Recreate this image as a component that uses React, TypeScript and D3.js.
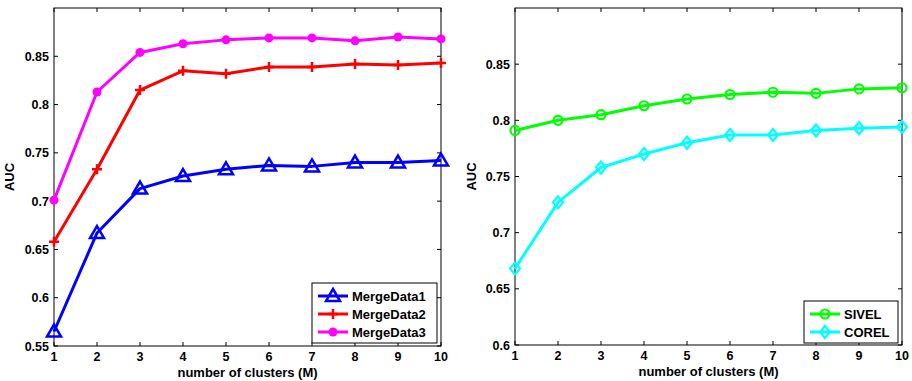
import { useEffect, useRef } from 'react';
import * as d3 from 'd3';

const clusters = [1, 2, 3, 4, 5, 6, 7, 8, 9, 10];

const mergeData1 = [0.565, 0.667, 0.713, 0.726, 0.733, 0.737, 0.736, 0.740, 0.740, 0.742];
const mergeData2 = [0.658, 0.733, 0.815, 0.835, 0.832, 0.839, 0.839, 0.842, 0.841, 0.843];
const mergeData3 = [0.701, 0.813, 0.854, 0.863, 0.867, 0.869, 0.869, 0.866, 0.870, 0.868];

const sivel = [0.791, 0.800, 0.805, 0.813, 0.819, 0.823, 0.825, 0.824, 0.828, 0.829];
const corel = [0.668, 0.727, 0.758, 0.770, 0.780, 0.787, 0.787, 0.791, 0.793, 0.794];

const leftTicks = [0.55, 0.6, 0.65, 0.7, 0.75, 0.8, 0.85];
const rightTicks = [0.6, 0.65, 0.7, 0.75, 0.8, 0.85];

type Series = { name: string; values: number[]; color: string; marker: string };

const leftSeries: Series[] = [
  { name: 'MergeData1', values: mergeData1, color: '#0000ff', marker: 'triangle' },
  { name: 'MergeData2', values: mergeData2, color: '#ff0000', marker: 'plus' },
  { name: 'MergeData3', values: mergeData3, color: '#ff00ff', marker: 'dot' },
];

const rightSeries: Series[] = [
  { name: 'SIVEL', values: sivel, color: '#00ff00', marker: 'circle' },
  { name: 'COREL', values: corel, color: '#00ffff', marker: 'diamond' },
];

const FONT = '"Liberation Sans", Arial, sans-serif';

function drawMarker(g: d3.Selection<SVGGElement, unknown, null, undefined>, kind: string, x: number, y: number, color: string) {
  if (kind === 'triangle') {
    g.append('path')
      .attr('d', `M${x},${y - 7} L${x + 7},${y + 5} L${x - 7},${y + 5} Z`)
      .attr('fill', 'none').attr('stroke', color).attr('stroke-width', 2.5);
  } else if (kind === 'plus') {
    g.append('path')
      .attr('d', `M${x - 5},${y} L${x + 5},${y} M${x},${y - 5} L${x},${y + 5}`)
      .attr('stroke', color).attr('stroke-width', 2.5);
  } else if (kind === 'dot') {
    g.append('circle').attr('cx', x).attr('cy', y).attr('r', 4.5).attr('fill', color);
  } else if (kind === 'circle') {
    g.append('circle').attr('cx', x).attr('cy', y).attr('r', 4.5)
      .attr('fill', 'none').attr('stroke', color).attr('stroke-width', 2.2);
  } else if (kind === 'diamond') {
    g.append('path')
      .attr('d', `M${x},${y - 6} L${x + 5},${y} L${x},${y + 6} L${x - 5},${y} Z`)
      .attr('fill', 'none').attr('stroke', color).attr('stroke-width', 2.2);
  }
}

function drawPanel(
  svg: d3.Selection<SVGSVGElement, unknown, null, undefined>,
  box: { left: number; right: number; top: number; bottom: number },
  yDomain: [number, number],
  yTicks: number[],
  series: Series[],
  legend: { x: number; y: number; w: number; rowH: number },
  labelX: number
) {
  const x = d3.scaleLinear().domain([1, 10]).range([box.left, box.right]);
  const y = d3.scaleLinear().domain(yDomain).range([box.bottom, box.top]);
  const g = svg.append('g');

  // box
  g.append('rect')
    .attr('x', box.left).attr('y', box.top)
    .attr('width', box.right - box.left).attr('height', box.bottom - box.top)
    .attr('fill', 'white').attr('stroke', '#000').attr('stroke-width', 1);

  // ticks inside, all four sides
  const tl = 4;
  clusters.forEach(c => {
    const px = x(c);
    g.append('line').attr('x1', px).attr('x2', px).attr('y1', box.bottom).attr('y2', box.bottom - tl).attr('stroke', '#000');
    g.append('line').attr('x1', px).attr('x2', px).attr('y1', box.top).attr('y2', box.top + tl).attr('stroke', '#000');
    g.append('text').attr('x', px).attr('y', box.bottom + 15)
      .attr('text-anchor', 'middle').attr('font-size', 12.5).attr('font-weight', 'bold')
      .attr('font-family', FONT).text(c);
  });
  yTicks.forEach(t => {
    const py = y(t);
    g.append('line').attr('x1', box.left).attr('x2', box.left + tl).attr('y1', py).attr('y2', py).attr('stroke', '#000');
    g.append('line').attr('x1', box.right).attr('x2', box.right - tl).attr('y1', py).attr('y2', py).attr('stroke', '#000');
    g.append('text').attr('x', box.left - 5).attr('y', py + 4.5)
      .attr('text-anchor', 'end').attr('font-size', 12.5).attr('font-weight', 'bold')
      .attr('font-family', FONT).text(d3.format('')(t));
  });

  // axis labels
  g.append('text')
    .attr('x', (box.left + box.right) / 2).attr('y', box.bottom + 31)
    .attr('text-anchor', 'middle').attr('font-size', 13).attr('font-weight', 'bold')
    .attr('font-family', FONT).text('number of clusters (M)');
  g.append('text')
    .attr('transform', `translate(${labelX},${(box.top + box.bottom) / 2}) rotate(-90)`)
    .attr('text-anchor', 'middle').attr('font-size', 13).attr('font-weight', 'bold')
    .attr('font-family', FONT).text('AUC');

  const line = d3.line<number>().x((_, i) => x(clusters[i])).y(d => y(d));
  series.forEach(s => {
    g.append('path').attr('d', line(s.values)).attr('fill', 'none')
      .attr('stroke', s.color).attr('stroke-width', 3).attr('stroke-linejoin', 'round');
    s.values.forEach((v, i) => drawMarker(g, s.marker, x(clusters[i]), y(v), s.color));
  });

  // legend
  const lh = legend.rowH * series.length + 6;
  g.append('rect').attr('x', legend.x).attr('y', legend.y).attr('width', legend.w).attr('height', lh)
    .attr('fill', 'white').attr('stroke', '#000').attr('stroke-width', 1);
  series.forEach((s, i) => {
    const cy = legend.y + 3 + legend.rowH * (i + 0.5) + 1;
    g.append('line').attr('x1', legend.x + 6).attr('x2', legend.x + 36).attr('y1', cy).attr('y2', cy)
      .attr('stroke', s.color).attr('stroke-width', 3);
    drawMarker(g, s.marker, legend.x + 21, cy, s.color);
    g.append('text').attr('x', legend.x + 40).attr('y', cy + 5)
      .attr('font-size', 13).attr('font-weight', 'bold').attr('font-family', FONT).text(s.name);
  });
}

export default function App() {
  const ref = useRef<SVGSVGElement>(null);

  useEffect(() => {
    if (!ref.current) return;
    const svg = d3.select(ref.current);
    svg.selectAll('*').remove();

    drawPanel(svg, { left: 54, right: 441, top: 8, bottom: 346 }, [0.55, 0.9], leftTicks, leftSeries,
      { x: 312, y: 283, w: 125, rowH: 18 }, 14);
    drawPanel(svg, { left: 515, right: 902, top: 8, bottom: 345 }, [0.6, 0.9], rightTicks, rightSeries,
      { x: 804, y: 301, w: 94, rowH: 18 }, 476);
  }, []);

  return (
    <svg ref={ref} width={912} height={381}
      style={{ position: 'absolute', left: 0, top: 0, background: 'white' }} />
  );
}
